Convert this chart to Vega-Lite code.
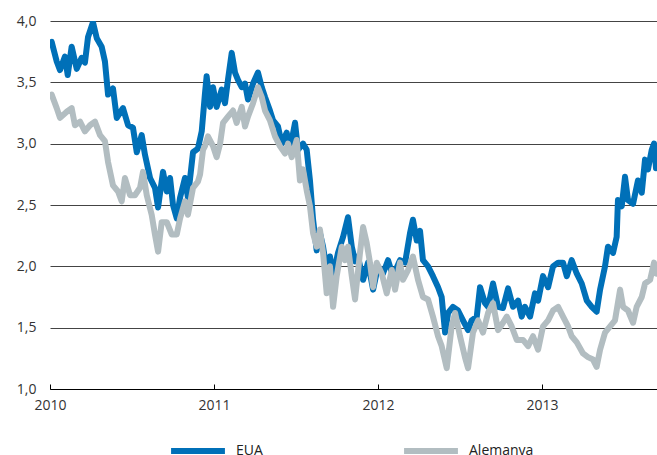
{
  "$schema": "https://vega.github.io/schema/vega-lite/v6.json",
  "width": 607,
  "height": 368,
  "autosize": {"type": "none"},
  "padding": {"left": 50, "top": 21, "right": 0, "bottom": 66},
  "background": "white",
  "config": {
    "view": {"stroke": null},
    "font": "Open Sans",
    "axis": {"labelFont": "Open Sans", "labelFontSize": 14, "labelColor": "#333333"}
  },
  "datasets": {
    "d": [
      {"s":"EUA","t":2010.010,"v":3.83},{"s":"EUA","t":2010.041,"v":3.67},{"s":"EUA","t":2010.061,"v":3.60},{"s":"EUA","t":2010.091,"v":3.71},{"s":"EUA","t":2010.108,"v":3.56},{"s":"EUA","t":2010.132,"v":3.79},{"s":"EUA","t":2010.163,"v":3.61},{"s":"EUA","t":2010.193,"v":3.70},{"s":"EUA","t":2010.213,"v":3.66},{"s":"EUA","t":2010.232,"v":3.87},{"s":"EUA","t":2010.262,"v":3.99},{"s":"EUA","t":2010.285,"v":3.86},{"s":"EUA","t":2010.315,"v":3.79},{"s":"EUA","t":2010.335,"v":3.67},{"s":"EUA","t":2010.354,"v":3.40},{"s":"EUA","t":2010.384,"v":3.45},{"s":"EUA","t":2010.407,"v":3.21},{"s":"EUA","t":2010.445,"v":3.29},{"s":"EUA","t":2010.476,"v":3.15},{"s":"EUA","t":2010.506,"v":3.13},{"s":"EUA","t":2010.529,"v":2.93},{"s":"EUA","t":2010.559,"v":3.07},{"s":"EUA","t":2010.579,"v":2.91},{"s":"EUA","t":2010.610,"v":2.72},{"s":"EUA","t":2010.640,"v":2.64},{"s":"EUA","t":2010.659,"v":2.48},{"s":"EUA","t":2010.689,"v":2.77},{"s":"EUA","t":2010.712,"v":2.61},{"s":"EUA","t":2010.732,"v":2.72},{"s":"EUA","t":2010.750,"v":2.50},{"s":"EUA","t":2010.773,"v":2.39},{"s":"EUA","t":2010.793,"v":2.56},{"s":"EUA","t":2010.823,"v":2.72},{"s":"EUA","t":2010.841,"v":2.56},{"s":"EUA","t":2010.872,"v":2.93},{"s":"EUA","t":2010.902,"v":2.96},{"s":"EUA","t":2010.925,"v":3.10},{"s":"EUA","t":2010.945,"v":3.41},{"s":"EUA","t":2010.955,"v":3.55},{"s":"EUA","t":2010.976,"v":3.30},{"s":"EUA","t":2010.994,"v":3.46},{"s":"EUA","t":2011.016,"v":3.30},{"s":"EUA","t":2011.047,"v":3.44},{"s":"EUA","t":2011.067,"v":3.33},{"s":"EUA","t":2011.085,"v":3.52},{"s":"EUA","t":2011.108,"v":3.74},{"s":"EUA","t":2011.128,"v":3.58},{"s":"EUA","t":2011.146,"v":3.52},{"s":"EUA","t":2011.169,"v":3.46},{"s":"EUA","t":2011.189,"v":3.49},{"s":"EUA","t":2011.207,"v":3.36},{"s":"EUA","t":2011.238,"v":3.49},{"s":"EUA","t":2011.268,"v":3.58},{"s":"EUA","t":2011.291,"v":3.46},{"s":"EUA","t":2011.311,"v":3.38},{"s":"EUA","t":2011.341,"v":3.27},{"s":"EUA","t":2011.360,"v":3.19},{"s":"EUA","t":2011.390,"v":3.14},{"s":"EUA","t":2011.413,"v":3.00},{"s":"EUA","t":2011.443,"v":3.09},{"s":"EUA","t":2011.463,"v":2.95},{"s":"EUA","t":2011.494,"v":3.17},{"s":"EUA","t":2011.512,"v":2.95},{"s":"EUA","t":2011.543,"v":3.00},{"s":"EUA","t":2011.565,"v":2.95},{"s":"EUA","t":2011.585,"v":2.70},{"s":"EUA","t":2011.604,"v":2.38},{"s":"EUA","t":2011.626,"v":2.13},{"s":"EUA","t":2011.646,"v":2.27},{"s":"EUA","t":2011.665,"v":2.16},{"s":"EUA","t":2011.687,"v":1.97},{"s":"EUA","t":2011.707,"v":2.08},{"s":"EUA","t":2011.726,"v":1.92},{"s":"EUA","t":2011.756,"v":2.11},{"s":"EUA","t":2011.787,"v":2.24},{"s":"EUA","t":2011.817,"v":2.40},{"s":"EUA","t":2011.840,"v":2.16},{"s":"EUA","t":2011.860,"v":2.04},{"s":"EUA","t":2011.878,"v":2.08},{"s":"EUA","t":2011.909,"v":1.89},{"s":"EUA","t":2011.939,"v":2.03},{"s":"EUA","t":2011.970,"v":1.81},{"s":"EUA","t":2012.000,"v":2.00},{"s":"EUA","t":2012.030,"v":1.94},{"s":"EUA","t":2012.061,"v":2.05},{"s":"EUA","t":2012.091,"v":1.92},{"s":"EUA","t":2012.134,"v":2.05},{"s":"EUA","t":2012.165,"v":2.03},{"s":"EUA","t":2012.195,"v":2.27},{"s":"EUA","t":2012.213,"v":2.38},{"s":"EUA","t":2012.236,"v":2.21},{"s":"EUA","t":2012.256,"v":2.29},{"s":"EUA","t":2012.274,"v":2.05},{"s":"EUA","t":2012.305,"v":2.00},{"s":"EUA","t":2012.335,"v":1.92},{"s":"EUA","t":2012.366,"v":1.83},{"s":"EUA","t":2012.388,"v":1.75},{"s":"EUA","t":2012.409,"v":1.46},{"s":"EUA","t":2012.427,"v":1.62},{"s":"EUA","t":2012.457,"v":1.67},{"s":"EUA","t":2012.488,"v":1.64},{"s":"EUA","t":2012.518,"v":1.56},{"s":"EUA","t":2012.549,"v":1.48},{"s":"EUA","t":2012.571,"v":1.56},{"s":"EUA","t":2012.602,"v":1.59},{"s":"EUA","t":2012.622,"v":1.83},{"s":"EUA","t":2012.652,"v":1.70},{"s":"EUA","t":2012.671,"v":1.67},{"s":"EUA","t":2012.701,"v":1.86},{"s":"EUA","t":2012.732,"v":1.67},{"s":"EUA","t":2012.762,"v":1.66},{"s":"EUA","t":2012.793,"v":1.82},{"s":"EUA","t":2012.823,"v":1.67},{"s":"EUA","t":2012.854,"v":1.72},{"s":"EUA","t":2012.876,"v":1.59},{"s":"EUA","t":2012.896,"v":1.67},{"s":"EUA","t":2012.927,"v":1.59},{"s":"EUA","t":2012.957,"v":1.78},{"s":"EUA","t":2012.976,"v":1.72},{"s":"EUA","t":2013.006,"v":1.92},{"s":"EUA","t":2013.037,"v":1.83},{"s":"EUA","t":2013.067,"v":2.00},{"s":"EUA","t":2013.098,"v":2.03},{"s":"EUA","t":2013.128,"v":2.03},{"s":"EUA","t":2013.151,"v":1.92},{"s":"EUA","t":2013.181,"v":2.05},{"s":"EUA","t":2013.212,"v":1.94},{"s":"EUA","t":2013.242,"v":1.86},{"s":"EUA","t":2013.273,"v":1.72},{"s":"EUA","t":2013.303,"v":1.67},{"s":"EUA","t":2013.333,"v":1.63},{"s":"EUA","t":2013.354,"v":1.81},{"s":"EUA","t":2013.384,"v":2.00},{"s":"EUA","t":2013.402,"v":2.16},{"s":"EUA","t":2013.433,"v":2.11},{"s":"EUA","t":2013.455,"v":2.24},{"s":"EUA","t":2013.463,"v":2.54},{"s":"EUA","t":2013.486,"v":2.49},{"s":"EUA","t":2013.506,"v":2.73},{"s":"EUA","t":2013.524,"v":2.54},{"s":"EUA","t":2013.555,"v":2.51},{"s":"EUA","t":2013.585,"v":2.70},{"s":"EUA","t":2013.608,"v":2.60},{"s":"EUA","t":2013.628,"v":2.87},{"s":"EUA","t":2013.646,"v":2.79},{"s":"EUA","t":2013.669,"v":2.95},{"s":"EUA","t":2013.683,"v":3.00},{"s":"EUA","t":2013.695,"v":2.80},
      {"s":"Alemanya","t":2010.010,"v":3.40},{"s":"Alemanya","t":2010.041,"v":3.29},{"s":"Alemanya","t":2010.061,"v":3.21},{"s":"Alemanya","t":2010.102,"v":3.26},{"s":"Alemanya","t":2010.132,"v":3.29},{"s":"Alemanya","t":2010.152,"v":3.15},{"s":"Alemanya","t":2010.183,"v":3.18},{"s":"Alemanya","t":2010.213,"v":3.10},{"s":"Alemanya","t":2010.244,"v":3.15},{"s":"Alemanya","t":2010.274,"v":3.18},{"s":"Alemanya","t":2010.305,"v":3.07},{"s":"Alemanya","t":2010.335,"v":3.02},{"s":"Alemanya","t":2010.354,"v":2.85},{"s":"Alemanya","t":2010.384,"v":2.66},{"s":"Alemanya","t":2010.415,"v":2.61},{"s":"Alemanya","t":2010.437,"v":2.53},{"s":"Alemanya","t":2010.457,"v":2.72},{"s":"Alemanya","t":2010.488,"v":2.58},{"s":"Alemanya","t":2010.518,"v":2.58},{"s":"Alemanya","t":2010.549,"v":2.64},{"s":"Alemanya","t":2010.567,"v":2.77},{"s":"Alemanya","t":2010.590,"v":2.58},{"s":"Alemanya","t":2010.620,"v":2.42},{"s":"Alemanya","t":2010.640,"v":2.26},{"s":"Alemanya","t":2010.659,"v":2.12},{"s":"Alemanya","t":2010.681,"v":2.36},{"s":"Alemanya","t":2010.712,"v":2.36},{"s":"Alemanya","t":2010.742,"v":2.26},{"s":"Alemanya","t":2010.773,"v":2.26},{"s":"Alemanya","t":2010.793,"v":2.39},{"s":"Alemanya","t":2010.823,"v":2.53},{"s":"Alemanya","t":2010.841,"v":2.42},{"s":"Alemanya","t":2010.872,"v":2.64},{"s":"Alemanya","t":2010.902,"v":2.69},{"s":"Alemanya","t":2010.915,"v":2.75},{"s":"Alemanya","t":2010.933,"v":2.95},{"s":"Alemanya","t":2010.945,"v":2.98},{"s":"Alemanya","t":2010.963,"v":3.06},{"s":"Alemanya","t":2010.994,"v":2.98},{"s":"Alemanya","t":2011.016,"v":2.89},{"s":"Alemanya","t":2011.037,"v":3.00},{"s":"Alemanya","t":2011.055,"v":3.17},{"s":"Alemanya","t":2011.085,"v":3.22},{"s":"Alemanya","t":2011.116,"v":3.27},{"s":"Alemanya","t":2011.138,"v":3.17},{"s":"Alemanya","t":2011.169,"v":3.30},{"s":"Alemanya","t":2011.189,"v":3.14},{"s":"Alemanya","t":2011.207,"v":3.22},{"s":"Alemanya","t":2011.238,"v":3.33},{"s":"Alemanya","t":2011.268,"v":3.46},{"s":"Alemanya","t":2011.291,"v":3.38},{"s":"Alemanya","t":2011.311,"v":3.27},{"s":"Alemanya","t":2011.341,"v":3.19},{"s":"Alemanya","t":2011.372,"v":3.06},{"s":"Alemanya","t":2011.402,"v":2.98},{"s":"Alemanya","t":2011.433,"v":2.92},{"s":"Alemanya","t":2011.451,"v":3.00},{"s":"Alemanya","t":2011.474,"v":2.89},{"s":"Alemanya","t":2011.504,"v":3.03},{"s":"Alemanya","t":2011.524,"v":2.70},{"s":"Alemanya","t":2011.543,"v":2.79},{"s":"Alemanya","t":2011.565,"v":2.62},{"s":"Alemanya","t":2011.585,"v":2.49},{"s":"Alemanya","t":2011.604,"v":2.27},{"s":"Alemanya","t":2011.626,"v":2.16},{"s":"Alemanya","t":2011.646,"v":2.30},{"s":"Alemanya","t":2011.665,"v":2.11},{"s":"Alemanya","t":2011.687,"v":1.78},{"s":"Alemanya","t":2011.707,"v":2.00},{"s":"Alemanya","t":2011.726,"v":1.67},{"s":"Alemanya","t":2011.748,"v":1.92},{"s":"Alemanya","t":2011.779,"v":2.16},{"s":"Alemanya","t":2011.799,"v":2.05},{"s":"Alemanya","t":2011.817,"v":2.16},{"s":"Alemanya","t":2011.840,"v":1.92},{"s":"Alemanya","t":2011.860,"v":1.73},{"s":"Alemanya","t":2011.890,"v":2.11},{"s":"Alemanya","t":2011.909,"v":2.32},{"s":"Alemanya","t":2011.931,"v":2.19},{"s":"Alemanya","t":2011.951,"v":2.03},{"s":"Alemanya","t":2011.970,"v":1.83},{"s":"Alemanya","t":2011.992,"v":2.03},{"s":"Alemanya","t":2012.023,"v":1.94},{"s":"Alemanya","t":2012.053,"v":1.78},{"s":"Alemanya","t":2012.084,"v":1.97},{"s":"Alemanya","t":2012.104,"v":1.81},{"s":"Alemanya","t":2012.134,"v":2.03},{"s":"Alemanya","t":2012.152,"v":1.89},{"s":"Alemanya","t":2012.183,"v":1.97},{"s":"Alemanya","t":2012.213,"v":2.08},{"s":"Alemanya","t":2012.244,"v":1.89},{"s":"Alemanya","t":2012.274,"v":1.75},{"s":"Alemanya","t":2012.305,"v":1.73},{"s":"Alemanya","t":2012.335,"v":1.59},{"s":"Alemanya","t":2012.366,"v":1.43},{"s":"Alemanya","t":2012.388,"v":1.35},{"s":"Alemanya","t":2012.419,"v":1.17},{"s":"Alemanya","t":2012.449,"v":1.51},{"s":"Alemanya","t":2012.470,"v":1.62},{"s":"Alemanya","t":2012.500,"v":1.43},{"s":"Alemanya","t":2012.530,"v":1.26},{"s":"Alemanya","t":2012.549,"v":1.17},{"s":"Alemanya","t":2012.579,"v":1.46},{"s":"Alemanya","t":2012.610,"v":1.56},{"s":"Alemanya","t":2012.640,"v":1.46},{"s":"Alemanya","t":2012.671,"v":1.62},{"s":"Alemanya","t":2012.701,"v":1.70},{"s":"Alemanya","t":2012.732,"v":1.48},{"s":"Alemanya","t":2012.762,"v":1.54},{"s":"Alemanya","t":2012.785,"v":1.59},{"s":"Alemanya","t":2012.815,"v":1.51},{"s":"Alemanya","t":2012.846,"v":1.40},{"s":"Alemanya","t":2012.884,"v":1.40},{"s":"Alemanya","t":2012.915,"v":1.35},{"s":"Alemanya","t":2012.945,"v":1.43},{"s":"Alemanya","t":2012.976,"v":1.32},{"s":"Alemanya","t":2013.006,"v":1.51},{"s":"Alemanya","t":2013.037,"v":1.56},{"s":"Alemanya","t":2013.067,"v":1.64},{"s":"Alemanya","t":2013.098,"v":1.67},{"s":"Alemanya","t":2013.128,"v":1.59},{"s":"Alemanya","t":2013.159,"v":1.51},{"s":"Alemanya","t":2013.181,"v":1.43},{"s":"Alemanya","t":2013.212,"v":1.38},{"s":"Alemanya","t":2013.250,"v":1.29},{"s":"Alemanya","t":2013.280,"v":1.26},{"s":"Alemanya","t":2013.311,"v":1.24},{"s":"Alemanya","t":2013.333,"v":1.18},{"s":"Alemanya","t":2013.354,"v":1.32},{"s":"Alemanya","t":2013.384,"v":1.46},{"s":"Alemanya","t":2013.415,"v":1.51},{"s":"Alemanya","t":2013.445,"v":1.56},{"s":"Alemanya","t":2013.476,"v":1.81},{"s":"Alemanya","t":2013.494,"v":1.67},{"s":"Alemanya","t":2013.524,"v":1.64},{"s":"Alemanya","t":2013.555,"v":1.54},{"s":"Alemanya","t":2013.577,"v":1.67},{"s":"Alemanya","t":2013.608,"v":1.75},{"s":"Alemanya","t":2013.628,"v":1.86},{"s":"Alemanya","t":2013.659,"v":1.89},{"s":"Alemanya","t":2013.683,"v":2.03},{"s":"Alemanya","t":2013.699,"v":1.94}
    ]
  },
  "data": {"name": "d"},
  "mark": {"type": "line", "strokeWidth": 6, "strokeCap": "round", "strokeJoin": "round", "clip": true},
  "encoding": {
    "x": {
      "field": "t", "type": "quantitative",
      "scale": {"domain": [2010, 2013.701], "nice": false, "zero": false},
      "axis": {
        "title": null, "values": [2010, 2011, 2012, 2013], "format": "d",
        "grid": false, "domain": true, "domainColor": "#000000", "domainWidth": 1.2,
        "ticks": true, "tickSize": -5, "tickColor": "#000000", "tickWidth": 1,
        "labelPadding": 14, "labelFlush": false, "labelOverlap": false
      }
    },
    "y": {
      "field": "v", "type": "quantitative",
      "scale": {"domain": [1, 4], "nice": false, "zero": false},
      "axis": {
        "title": null, "values": [1, 1.5, 2, 2.5, 3, 3.5, 4],
        "labelExpr": "replace(format(datum.value, '.1f'), '.', ',')",
        "grid": true, "gridColor": "#444444", "gridWidth": 1,
        "domain": false, "ticks": false, "labelPadding": 14
      }
    },
    "color": {
      "field": "s", "type": "nominal",
      "scale": {"domain": ["EUA", "Alemanya"], "range": ["#0070B8", "#B2BDC1"]},
      "legend": {
        "title": null, "orient": "none", "direction": "horizontal",
        "legendX": 118, "legendY": 400, "padding": 0,
        "symbolType": "stroke", "symbolSize": 2900, "symbolStrokeWidth": 6,
        "labelFont": "Open Sans", "labelFontSize": 14, "labelColor": "#222222",
        "labelOffset": 8, "columnPadding": 129
      }
    },
    "order": {"field": "t", "type": "quantitative"}
  }
}
